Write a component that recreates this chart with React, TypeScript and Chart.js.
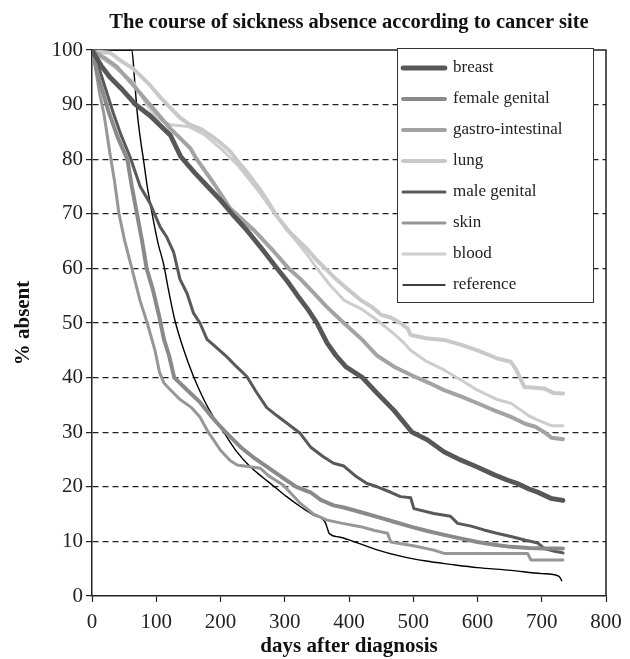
import React, { useEffect, useRef } from "react";
import { Chart, registerables } from "chart.js";

Chart.register(...registerables);

const FONT = "'Liberation Serif', 'Times New Roman', serif";

const titleText = "The course of sickness absence according to cancer site";
const xTitle = "days after diagnosis";
const yTitle = "% absent";

const xTickValues = [0, 100, 200, 300, 400, 500, 600, 700, 800];
const yTickValues = [0, 10, 20, 30, 40, 50, 60, 70, 80, 90, 100];

const seriesNames = ["breast", "female genital", "gastro-intestinal", "lung", "male genital", "skin", "blood", "reference"];
const seriesColors = ["#575757", "#8a8a8a", "#a3a3a3", "#c9c9c9", "#595959", "#979797", "#cdcdcd", "#000000"];
const seriesWidths = [4.8, 4, 4, 4, 3, 3, 3, 1.4];

const breast: [number, number][] = [
  [0, 100], [15, 97], [28, 95], [45, 93], [68, 90], [90, 88], [122, 84.4], [138, 80.5], [160, 77.5], [180, 75],
  [200, 72.5], [218, 70], [241, 67], [265, 63.5], [288, 60], [305, 57.5], [320, 55], [336, 52.5], [350, 50],
  [366, 46.3], [380, 44], [395, 42], [421, 40], [444, 37.1], [470, 34], [484, 32], [498, 30], [522, 28.6],
  [548, 26.4], [574, 24.9], [600, 23.6], [626, 22.2], [645, 21.3], [662, 20.6], [680, 19.6], [694, 19],
  [714, 17.9], [733, 17.5],
];

const femaleGenital: [number, number][] = [
  [0, 100], [10, 95], [25, 89], [40, 84], [55, 80], [62, 75], [70, 70], [78, 65], [85, 60], [95, 56],
  [105, 51], [112, 47], [120, 44], [128, 40], [150, 37.5], [168, 35.5], [185, 33], [200, 31], [208, 30],
  [231, 27.3], [250, 25.5], [272, 23.7], [295, 21.8], [318, 20], [340, 19], [356, 17.6], [376, 16.6],
  [392, 16.2], [420, 15.3], [444, 14.5], [470, 13.6], [496, 12.7], [522, 11.9], [548, 11.2], [575, 10.5],
  [600, 9.9], [626, 9.4], [652, 9], [680, 8.8], [704, 8.7], [733, 8.7],
];

const gastroIntestinal: [number, number][] = [
  [0, 100], [20, 98.5], [38, 97], [64, 93.6], [90, 90], [122, 85.6], [153, 82], [163, 80], [190, 75.5],
  [215, 71], [252, 67], [280, 63.5], [306, 60], [325, 58], [345, 55.5], [365, 53], [392, 50], [420, 47],
  [444, 44], [470, 42], [500, 40.3], [525, 39], [548, 37.7], [575, 36.5], [600, 35.3], [626, 34], [652, 32.8],
  [675, 31.5], [690, 31], [704, 30], [715, 29], [733, 28.7],
];

const lung: [number, number][] = [
  [0, 100], [7, 99.7], [28, 99.5], [45, 98], [64, 96.6], [90, 93.6], [105, 91.5], [122, 89.4], [138, 87.5],
  [153, 86.3], [170, 85.5], [184, 84.4], [200, 83], [215, 81.4], [228, 79.5], [242, 77.5], [260, 74.7],
  [275, 72], [288, 69.5], [309, 66.5], [335, 63.5], [350, 61.5], [363, 60], [380, 58], [400, 56], [418, 54.2],
  [435, 53], [450, 51.5], [465, 51], [480, 50], [491, 49], [496, 47.8], [520, 47.2], [548, 46.9], [575, 46],
  [600, 45], [631, 43.5], [652, 42.9], [660, 41.5], [666, 40], [673, 38.3], [704, 38], [718, 37.2], [733, 37.1],
];

const maleGenital: [number, number][] = [
  [0, 100], [12, 96.3], [33, 88.5], [45, 84.5], [59, 80.5], [75, 75], [90, 72], [106, 67.6], [116, 65.8],
  [127, 63], [137, 58], [148, 55.4], [158, 51.8], [168, 50], [179, 47], [189, 46], [210, 43.8], [225, 42],
  [241, 40.2], [255, 37.5], [272, 34.5], [288, 33], [304, 31.6], [324, 29.8], [340, 27.3], [360, 25.5],
  [376, 24.3], [392, 23.8], [410, 22], [428, 20.6], [444, 20], [465, 19], [480, 18.2], [496, 18], [501, 16],
  [532, 15.1], [558, 14.6], [569, 13.3], [590, 12.8], [610, 12.1], [630, 11.5], [652, 10.9], [675, 10.2],
  [694, 9.7], [704, 8.7], [720, 8.2], [733, 7.9],
];

const skin: [number, number][] = [
  [0, 100], [5, 97], [12, 92], [19, 88], [28, 81], [35, 76], [42, 70], [51, 65], [62, 60], [75, 54],
  [86, 50], [98, 45], [105, 41], [112, 39], [120, 38], [137, 36], [155, 34.5], [168, 32.8], [181, 30],
  [200, 26.7], [215, 24.8], [226, 24], [262, 23.4], [275, 22], [298, 20.3], [324, 17], [345, 15], [366, 13.9],
  [390, 13.3], [418, 12.7], [440, 12], [460, 11.5], [465, 9.9], [500, 9.2], [532, 8.4], [548, 7.8],
  [678, 7.8], [683, 6.6], [733, 6.6],
];

const blood: [number, number][] = [
  [0, 100], [10, 99], [33, 97], [64, 94.2], [85, 90], [101, 87.5], [122, 86.3], [150, 86], [175, 84.5],
  [200, 82], [226, 79], [257, 74.5], [288, 69.5], [300, 67.5], [318, 65], [335, 62.5], [350, 60], [370, 57],
  [392, 54.2], [420, 52.5], [444, 50.5], [470, 48], [486, 46.3], [496, 45], [520, 43], [548, 41.4],
  [575, 39.5], [600, 37.7], [630, 36], [652, 35.3], [668, 34], [680, 33], [694, 32.2], [715, 31.2], [733, 31.2],
];

const reference: [number, number][] = [
  [0, 100], [62, 100], [66, 95], [70, 89], [75, 84], [80, 80], [86, 75], [93, 70.4], [103, 64.5], [111, 61],
  [120, 55.5], [129, 50.5], [143, 45], [158, 40.2], [174, 36], [188, 33], [205, 30], [225, 26.5], [246, 23.7],
  [265, 21.8], [283, 20.1], [303, 18.2], [324, 16.4], [345, 14.8], [363, 13.5], [366, 12.5], [369, 11.5],
  [385, 10.8], [402, 10.2], [440, 8.6], [480, 7.3], [520, 6.4], [558, 5.8], [600, 5.2], [652, 4.7],
  [700, 4.1], [727, 3.6], [731, 2.8],
];

const seriesData = [breast, femaleGenital, gastroIntestinal, lung, maleGenital, skin, blood, reference];

const framePlugin = {
  id: "frameAndTitle",
  beforeDatasetsDraw(chart: any) {
    const { ctx, chartArea } = chart;
    ctx.save();
    ctx.strokeStyle = "#222";
    ctx.lineWidth = 1.5;
    ctx.beginPath();
    ctx.moveTo(chartArea.left, chartArea.top);
    ctx.lineTo(chartArea.right, chartArea.top);
    ctx.lineTo(chartArea.right, chartArea.bottom);
    ctx.stroke();
    ctx.fillStyle = "#111";
    ctx.font = `bold 20.5px ${FONT}`;
    ctx.textAlign = "center";
    ctx.textBaseline = "alphabetic";
    ctx.fillText(titleText, (chartArea.left + chartArea.right) / 2, 28);
    ctx.restore();
  },
};

const legendPlugin = {
  id: "insideLegend",
  afterDatasetsDraw(chart: any) {
    const { ctx, chartArea } = chart;
    const left = chartArea.left + 305;
    const top = chartArea.top - 2;
    const w = 196;
    const h = 254;
    ctx.save();
    ctx.fillStyle = "#fff";
    ctx.fillRect(left, top, w, h);
    ctx.strokeStyle = "#333";
    ctx.lineWidth = 1;
    ctx.strokeRect(left + 0.5, top + 0.5, w, h);
    ctx.font = `17px ${FONT}`;
    ctx.textBaseline = "middle";
    ctx.textAlign = "left";
    chart.data.datasets.forEach((ds: any, i: number) => {
      const y = top + 20 + i * 31;
      ctx.strokeStyle = ds.borderColor;
      ctx.lineWidth = ds.borderWidth;
      ctx.lineCap = "round";
      ctx.beginPath();
      ctx.moveTo(left + 6, y);
      ctx.lineTo(left + 48, y);
      ctx.stroke();
      ctx.fillStyle = "#222";
      ctx.fillText(ds.label, left + 56, y);
    });
    ctx.restore();
  },
};

export default function App() {
  const canvasRef = useRef<HTMLCanvasElement | null>(null);

  useEffect(() => {
    document.body.style.margin = "0";
    const canvas = canvasRef.current;
    if (!canvas) return;
    const chart = new Chart(canvas, {
      type: "line",
      data: {
        datasets: seriesData.map((arr, i) => ({
          label: seriesNames[i],
          data: arr.map(([x, y]) => ({ x, y })),
          borderColor: seriesColors[i],
          backgroundColor: seriesColors[i],
          borderWidth: seriesWidths[i],
          pointRadius: 0,
          fill: false,
          tension: 0,
          borderJoinStyle: "round" as const,
          borderCapStyle: "round" as const,
          cubicInterpolationMode: i === 7 ? ("monotone" as const) : ("default" as const),
        })),
      },
      options: {
        responsive: false,
        animation: false,
        devicePixelRatio: 1,
        layout: { padding: { top: 50, right: 24, left: 0, bottom: 0 } },
        plugins: {
          legend: { display: false },
          title: { display: false },
          tooltip: { enabled: false },
        },
        scales: {
          x: {
            type: "linear",
            min: 0,
            max: 800,
            afterFit: (s: any) => { s.height = 63; },
            afterBuildTicks: (s: any) => { s.ticks = xTickValues.map((v) => ({ value: v })); },
            ticks: { color: "#222", font: { family: FONT, size: 21 }, padding: 8, maxRotation: 0 },
            grid: { drawOnChartArea: false, drawTicks: true, tickLength: 6, tickColor: "#222", tickWidth: 1.2 },
            border: { display: true, color: "#222", width: 1.5 },
            title: { display: true, text: xTitle, color: "#111", font: { family: FONT, size: 21, weight: "bold" }, padding: { top: 0, bottom: 0 } },
          },
          y: {
            type: "linear",
            min: 0,
            max: 100,
            afterFit: (s: any) => { s.width = 92; },
            afterBuildTicks: (s: any) => { s.ticks = yTickValues.map((v) => ({ value: v })); },
            ticks: { color: "#222", font: { family: FONT, size: 21 }, padding: 3 },
            grid: {
              drawOnChartArea: true,
              drawTicks: true,
              tickLength: 6,
              color: (c: any) => (c.tick && (c.tick.value === 0 || c.tick.value === 100) ? "rgba(0,0,0,0)" : "#222"),
              lineWidth: 1.2,
              tickColor: "#222",
              tickWidth: 1.2,
              tickBorderDash: [],
            },
            border: { display: true, color: "#222", width: 1.5, dash: [6, 4] },
            title: { display: true, text: yTitle, color: "#111", font: { family: FONT, size: 21, weight: "bold" }, padding: { top: 11, bottom: 0 } },
          },
        },
      },
      plugins: [framePlugin, legendPlugin],
    } as any);
    return () => chart.destroy();
  }, []);

  return (
    <div style={{ position: "fixed", left: 0, top: 0, width: 630, height: 659, background: "#fff" }}>
      <canvas ref={canvasRef} width={630} height={659} />
    </div>
  );
}
